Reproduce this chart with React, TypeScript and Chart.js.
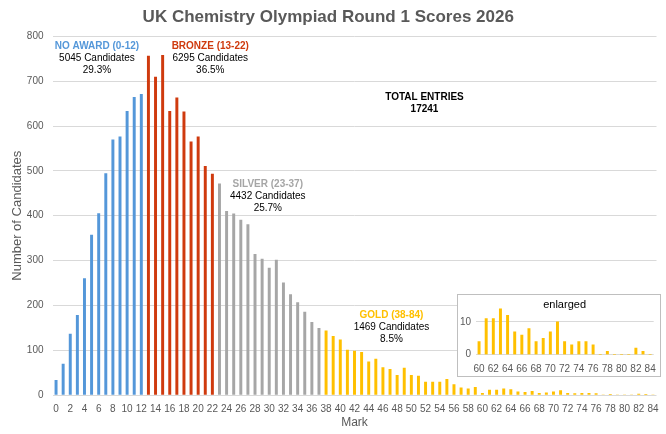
import React, { useEffect, useRef } from 'react';
import { Chart, registerables } from 'chart.js';

Chart.register(...registerables);

// ---------- data ----------
const marks = [
  '0', '1', '2', '3', '4', '5', '6', '7', '8', '9', '10', '11', '12', '13', '14', '15', '16', '17', '18', '19',
  '20', '21', '22', '23', '24', '25', '26', '27', '28', '29', '30', '31', '32', '33', '34', '35', '36', '37', '38', '39',
  '40', '41', '42', '43', '44', '45', '46', '47', '48', '49', '50', '51', '52', '53', '54', '55', '56', '57', '58', '59',
  '60', '61', '62', '63', '64', '65', '66', '67', '68', '69', '70', '71', '72', '73', '74', '75', '76', '77', '78', '79',
  '80', '81', '82', '83', '84',
];

// first mark of each award band
const bandStarts = [0, 13, 23, 38];

const noAwardCounts = [33, 69, 136, 178, 260, 357, 405, 494, 569, 576, 633, 664, 671];
const bronzeCounts = [756, 709, 758, 633, 663, 632, 565, 576, 510, 493];
const silverCounts = [471, 410, 404, 390, 380, 314, 303, 283, 301, 250, 224, 206, 185, 162, 149];
const goldCounts = [
  143, 131, 123, 100, 98, 95, 74, 80, 61, 57, 44, 60, 44, 42, 29, 29, 29, 35, 23, 16, 14, 17,
  4, 11, 11, 14, 12, 7, 6, 8, 4, 5, 7, 10, 4, 3, 4, 4, 3, 0, 1, 0, 0, 0, 2, 1, 0,
];

const bandNames = ['NO AWARD (0-12)', 'BRONZE (13-22)', 'SILVER (23-37)', 'GOLD (38-84)'];
const bandCandidates = ['5045 Candidates', '6295 Candidates', '4432 Candidates', '1469 Candidates'];
const bandPercents = ['29.3%', '36.5%', '25.7%', '8.5%'];
const totalLabel = 'TOTAL ENTRIES';
const totalValue = '17241';

const insetStartMark = 60;
const chartTitle = 'UK Chemistry Olympiad Round 1 Scores 2026';
const yTitle = 'Number of Candidates';
const xTitle = 'Mark';
const insetTitle = 'enlarged';

// ---------- styles / positions ----------
const FONT = '"Liberation Sans", Arial, Helvetica, sans-serif';
const bandColors = ['#5497D9', '#CF3A0E', '#A6A6A6', '#FFC000'];
const textGrey = '#595959';
const gridGrey = '#D9D9D9';
// annotation anchors in data units (mark, count)
const bandLabelAnchors = [
  { mark: 5.75, count: 778 },
  { mark: 21.7, count: 778 },
  { mark: 29.8, count: 471 },
  { mark: 47.2, count: 178 },
];
const totalAnchor = { mark: 51.85, count: 665 };

const bandCounts = [noAwardCounts, bronzeCounts, silverCounts, goldCounts];

function bandData(band: number): (number | null)[] {
  const start = bandStarts[band];
  const counts = bandCounts[band];
  return marks.map((_, i) => (i >= start && i < start + counts.length ? counts[i - start] : null));
}

const labelsPlugin = {
  id: 'bandLabels',
  afterDatasetsDraw(chart: any) {
    const { ctx } = chart;
    const x = chart.scales.x;
    const y = chart.scales.y;
    ctx.save();
    ctx.textAlign = 'center';
    ctx.textBaseline = 'middle';
    bandLabelAnchors.forEach((a, i) => {
      const px = x.getPixelForValue(a.mark);
      const py = y.getPixelForValue(a.count);
      ctx.font = `bold 10px ${FONT}`;
      ctx.fillStyle = bandColors[i];
      ctx.fillText(bandNames[i], px, py);
      ctx.font = `10px ${FONT}`;
      ctx.fillStyle = '#000000';
      ctx.fillText(bandCandidates[i], px, py + 12);
      ctx.fillText(bandPercents[i], px, py + 24);
    });
    const tx = x.getPixelForValue(totalAnchor.mark);
    const ty = y.getPixelForValue(totalAnchor.count);
    ctx.font = `bold 10px ${FONT}`;
    ctx.fillStyle = '#000000';
    ctx.fillText(totalLabel, tx, ty);
    ctx.fillText(totalValue, tx, ty + 12);
    ctx.restore();
  },
};

const insetTitlePlugin = {
  id: 'insetTitle',
  afterDatasetsDraw(chart: any) {
    const { ctx, chartArea } = chart;
    ctx.save();
    ctx.textAlign = 'center';
    ctx.textBaseline = 'middle';
    ctx.font = `11px ${FONT}`;
    ctx.fillStyle = '#000000';
    ctx.fillText(insetTitle, (chartArea.left + chartArea.right) / 2, 10);
    ctx.restore();
  },
};

export default function App() {
  const mainRef = useRef<HTMLCanvasElement>(null);
  const insetRef = useRef<HTMLCanvasElement>(null);

  useEffect(() => {
    const datasets = bandNames.map((name, i) => ({
      label: name,
      data: bandData(i),
      backgroundColor: bandColors[i],
      borderWidth: 0,
      barThickness: 2.3,
      grouped: false,
    }));

    const main = new Chart(mainRef.current!, {
      type: 'bar',
      data: { labels: marks, datasets },
      plugins: [labelsPlugin],
      options: {
        responsive: false,
        animation: false,
        devicePixelRatio: 1,
        layout: { padding: { left: 0, right: 9.5, top: 0, bottom: 0 } },
        plugins: {
          legend: { display: false },
          tooltip: { enabled: false },
          title: {
            display: true,
            text: chartTitle,
            color: textGrey,
            font: { family: FONT, size: 17, weight: 'bold' },
            padding: { top: 7, bottom: 9 },
          },
        },
        scales: {
          x: {
            offset: true,
            grid: { display: false },
            border: { display: false },
            ticks: {
              autoSkip: false,
              maxRotation: 0,
              minRotation: 0,
              padding: 0,
              color: textGrey,
              font: { family: FONT, size: 10 },
              callback: (_v: any, idx: number) => (idx % 2 === 0 ? marks[idx] : ''),
            },
            title: {
              display: true,
              text: xTitle,
              color: textGrey,
              font: { family: FONT, size: 12 },
              padding: { top: 0, bottom: 4 },
            },
            afterFit: (s: any) => { s.height = 39; },
          },
          y: {
            min: 0,
            max: 800,
            grid: { color: gridGrey, drawTicks: false },
            border: { display: false },
            ticks: {
              stepSize: 100,
              padding: 9,
              color: textGrey,
              font: { family: FONT, size: 10 },
            },
            title: {
              display: true,
              text: yTitle,
              color: textGrey,
              font: { family: FONT, size: 13 },
              padding: { top: 10, bottom: 0 },
            },
            afterFit: (s: any) => { s.width = 52.5; },
          },
        },
      },
    });

    const insetLabels = marks.slice(insetStartMark);
    const insetData = goldCounts.slice(insetStartMark - bandStarts[3]);
    const inset = new Chart(insetRef.current!, {
      type: 'bar',
      data: {
        labels: insetLabels,
        datasets: [{
          label: bandNames[3],
          data: insetData,
          backgroundColor: bandColors[3],
          borderWidth: 0,
          barThickness: 2.3,
        }],
      },
      plugins: [insetTitlePlugin],
      options: {
        responsive: false,
        animation: false,
        devicePixelRatio: 1,
        layout: { padding: { left: 0, right: 6.3, top: 0, bottom: 0 } },
        plugins: { legend: { display: false }, tooltip: { enabled: false } },
        scales: {
          x: {
            offset: true,
            grid: { display: false },
            border: { display: false },
            ticks: {
              autoSkip: false,
              maxRotation: 0,
              minRotation: 0,
              padding: 0.5,
              color: textGrey,
              font: { family: FONT, size: 10 },
              callback: (_v: any, idx: number) => (idx % 2 === 0 ? insetLabels[idx] : ''),
            },
            afterFit: (s: any) => { s.height = 21.3; },
          },
          y: {
            min: 0,
            max: 15,
            grid: { color: gridGrey, drawTicks: false },
            border: { display: false },
            ticks: {
              stepSize: 10,
              includeBounds: false,
              padding: 4.5,
              color: textGrey,
              font: { family: FONT, size: 10 },
            },
            afterBuildTicks: (s: any) => { s.ticks = s.ticks.filter((t: any) => t.value % 10 === 0); },
            afterFit: (s: any) => { s.width = 17.5; },
          },
        },
      },
    });

    return () => {
      main.destroy();
      inset.destroy();
    };
  }, []);

  return (
    <div style={{ position: 'absolute', left: 0, top: 0, width: 666, height: 434, background: '#ffffff' }}>
      <canvas ref={mainRef} width={666} height={434} style={{ display: 'block' }} />
      <div
        style={{
          position: 'absolute',
          left: 457,
          top: 294,
          width: 204,
          height: 83,
          boxSizing: 'border-box',
          border: '1px solid #BFBFBF',
          background: '#ffffff',
        }}
      >
        <canvas ref={insetRef} width={202} height={81} style={{ display: 'block' }} />
      </div>
    </div>
  );
}
